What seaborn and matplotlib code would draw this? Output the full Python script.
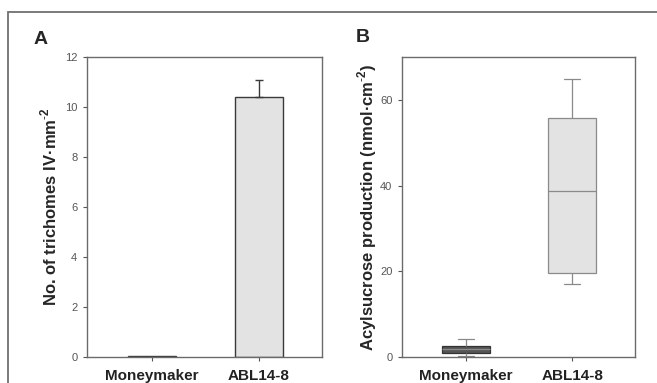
import numpy as np
import pandas as pd
import matplotlib
matplotlib.use("Agg")
import matplotlib.pyplot as plt
import matplotlib.patches as mpatches
import seaborn as sns

# Data
lines = ["Moneymaker", "ABL14-8"]
trichome_mean = [0.05, 10.4]
trichome_err = [0.0, 0.7]
# five values per line chosen so the quartiles/whiskers match the boxes
acyl_moneymaker = [0.2, 1.0, 1.8, 2.5, 4.3]
acyl_abl = [17.0, 19.5, 38.8, 55.7, 65.0]

sns.set_theme(style="white")
plt.rcParams["font.family"] = ["Liberation Sans", "DejaVu Sans"]
plt.rcParams["mathtext.fontset"] = "custom"
plt.rcParams["mathtext.rm"] = "Liberation Sans"
plt.rcParams["mathtext.bf"] = "Liberation Sans:bold"

EDGE = "#6b6b6b"
TICK = "#555555"

fig = plt.figure(figsize=(6.57, 3.83), dpi=100)
axA = fig.add_axes([0.1324, 0.0679, 0.3577, 0.783])
axB = fig.add_axes([0.612, 0.0679, 0.3547, 0.783])

# outer frame (cropped at right and bottom)
fig.add_artist(mpatches.Rectangle((8 / 657, -0.1), 1.2, 1 - 12 / 383 + 0.1,
                                  transform=fig.transFigure, fill=False,
                                  edgecolor="#707070", linewidth=1.3))

# Panel A: bar chart
bars = pd.DataFrame({"line": lines, "value": trichome_mean})
sns.barplot(data=bars, x="line", y="value", hue="line", palette=["#3a3a3a", "#e3e3e3"],
            legend=False, errorbar=None, width=0.45, edgecolor="#3a3a3a",
            linewidth=1.0, ax=axA)
axA.errorbar([1], [trichome_mean[1]], yerr=[[0], [trichome_err[1]]], fmt="none",
             ecolor="#3a3a3a", elinewidth=1.0, capsize=3, capthick=1.0)
axA.set_ylim(0, 12)
axA.set_yticks([0, 2, 4, 6, 8, 10, 12])
axA.set_xlim(-0.61, 1.59)
axA.set_ylabel("No. of trichomes IV·mm$^{\\mathbf{\\text{-}2}}$", fontsize=12,
               fontweight="bold", labelpad=4)

# Panel B: box plot
acyl = pd.DataFrame({
    "line": [lines[0]] * len(acyl_moneymaker) + [lines[1]] * len(acyl_abl),
    "value": acyl_moneymaker + acyl_abl,
})
sns.boxplot(data=acyl, x="line", y="value", hue="line", palette=["#555555", "#e3e3e3"],
            legend=False, width=0.45, linecolor="#8a8a8a", linewidth=0.9,
            whis=3, capwidths=0.15, ax=axB)
# darker outline for the Moneymaker box
for patch in axB.patches[:1]:
    patch.set_edgecolor("#333333")
axB.set_ylim(0, 70)
axB.set_yticks([0, 20, 40, 60])
axB.set_xlim(-0.60, 1.59)
axB.set_ylabel("Acylsucrose production (nmol·cm$^{\\mathbf{\\text{-}2}}$)", fontsize=12,
               fontweight="bold", labelpad=1)

for ax in (axA, axB):
    ax.set_xlabel("")
    for s in ax.spines.values():
        s.set_visible(True)
        s.set_color(EDGE)
        s.set_linewidth(1.0)
    ax.tick_params(axis="y", direction="out", length=3, width=0.8, color=TICK,
                   labelsize=8, labelcolor=TICK, pad=4, left=True)
    ax.tick_params(axis="x", direction="out", length=3, width=0.8, color=TICK,
                   labelsize=11, pad=6, bottom=True)
    for lab in ax.get_xticklabels():
        lab.set_fontweight("bold")
        lab.set_color("#222222")

fig.text(34 / 657, 1 - 39 / 383, "A", fontsize=14, fontweight="bold", va="center")
fig.text(356 / 657, 1 - 37 / 383, "B", fontsize=14, fontweight="bold", va="center")

fig.savefig("out.png", dpi=100)
